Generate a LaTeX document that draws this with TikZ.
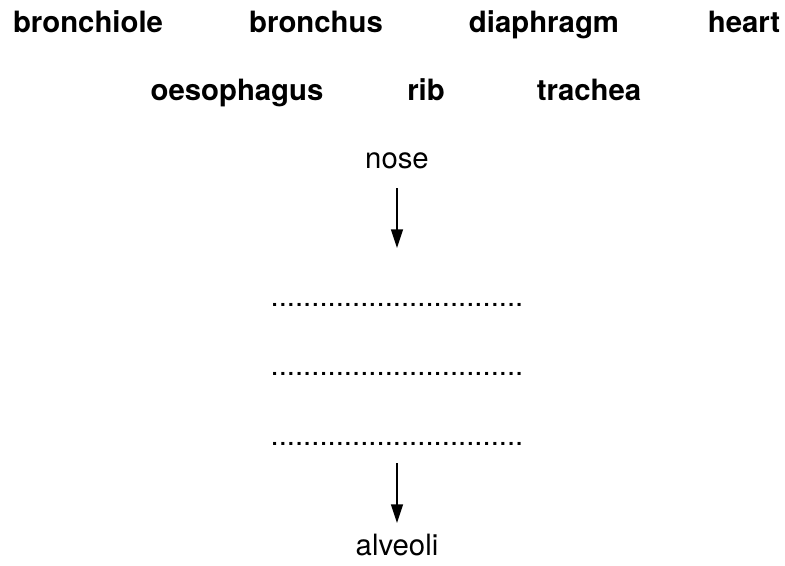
\documentclass[tikz,border=0pt]{standalone}
\usepackage{fontspec}
\setmainfont{TeX Gyre Heros}
\usepackage{tikz}
\usetikzlibrary{arrows.meta}

\tikzset{
  word/.style={anchor=base,inner sep=0pt,font=\fontsize{22}{26}\selectfont\bfseries},
  stage/.style={anchor=base,inner sep=0pt,font=\fontsize{22}{26}\selectfont},
  flow/.style={line width=1.1pt,-{Triangle[length=14pt,width=9pt]}}
}
\newcommand{\blankline}{...............................}

\begin{document}
\begin{tikzpicture}[x=0.75pt,y=-0.75pt]
\useasboundingbox (0,0) rectangle (785,565);
% word list
\node[word] (bronchiole) at (88,32) {bronchiole};
\node[word] (bronchus) at (316,32) {bronchus};
\node[word] (diaphragm) at (544,32) {diaphragm};
\node[word] (heart) at (744,32) {heart};
\node[word] (oesophagus) at (237,100) {oesophagus};
\node[word] (rib) at (426,100) {rib};
\node[word] (trachea) at (589,100) {trachea};
% airway
\node[stage] (nose) at (397,168) {nose};
\node[stage] (blankA) at (397,306) {\blankline};
\node[stage] (blankB) at (397,375) {\blankline};
\node[stage] (blankC) at (397,445) {\blankline};
\node[stage] (alveoli) at (397,555) {alveoli};
\coordinate (arrA) at (397,188);
\coordinate (arrB) at (397,248);
\coordinate (arrC) at (397,463);
\coordinate (arrD) at (397,523);
\draw[flow] (arrA) -- (arrB);
\draw[flow] (arrC) -- (arrD);
\end{tikzpicture}
\end{document}
